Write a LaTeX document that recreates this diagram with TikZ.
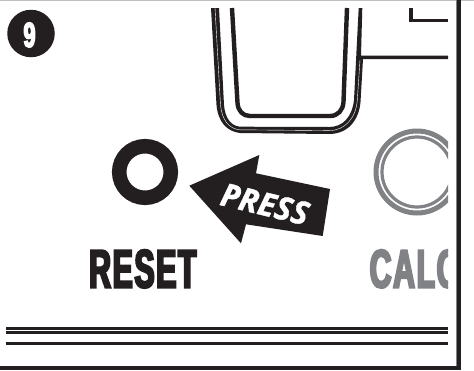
\documentclass[tikz,border=0pt]{standalone}
\usepackage{fontspec}
\newfontfamily\heavyfont[FakeBold=4,FakeStretch=0.56,LetterSpace=3]{Liberation Sans Bold}
\newfontfamily\numfont[FakeBold=4,FakeStretch=0.62]{Liberation Sans Bold}
\newfontfamily\pressfont[FakeBold=1.2]{Open Sans Bold Italic}
\definecolor{ink}{HTML}{231F20}
\definecolor{greyink}{HTML}{808285}
\tikzset{
  inkline/.style={draw=ink,line cap=butt,line join=round},
  seam/.style={draw=white,line width=0.4pt},
  bigword/.style={inner sep=0pt,anchor=base west,font=\heavyfont\fontsize{54}{54}\selectfont},
}
\begin{document}
\begin{tikzpicture}[x=1pt,y=-1pt]
\useasboundingbox (0,0) rectangle (474,370);
\fill[white] (0,0) rectangle (474,370);
% frame
\fill[black!25] (0,0) rectangle (474,1.2);
\fill[ink] (456.5,0) rectangle (461,370);
\fill[greyink] (455.5,0) rectangle (456.5,366);
\fill[ink] (0,366) rectangle (461,370);
% number badge
\node[circle,fill=ink,minimum size=47.5pt,inner sep=0pt] (badge) at (31,33.5) {};
\node[inner sep=0pt,text=white,font=\numfont\fontsize{35}{35}\selectfont] (nine) at (29.5,35) {9};
% panel outline (outer, double)
\fill[ink] (211,8) -- (216.5,105) .. controls (218,122) and (227,131.5) .. (240,133)
  -- (329,134) .. controls (348,134) and (359,120) .. (360.5,102)
  -- (363,59) -- (448,59) -- (448,55.5) -- (361,55.5) -- (362.3,8) -- (358.7,8)
  -- (354,100) .. controls (352,117) and (343,127) .. (329,127)
  -- (240,126.7) .. controls (231,126) and (225,118) .. (224,105) -- (219,8) -- cycle;
\draw[seam] (215,8) -- (220.5,105) .. controls (222,120) and (229,129) .. (240,129.8)
  -- (329,130.6) .. controls (345,130.6) and (356,118) .. (357.3,100) -- (360,60);
% panel inner line
\draw[inkline,line width=4.4pt] (232,8) -- (237.5,103) .. controls (238,111) and (243,116) .. (250,116)
  -- (330,116) .. controls (338,116) and (343,110) .. (343.5,102) -- (347,8);
% top-right corner
\draw[inkline,line width=3.6pt,line join=miter] (411,8) -- (411,20.5) -- (448,20.5);
% reset button
\draw[ink,line width=14.5pt] (145,172) circle (25.8pt);
% grey calc button
\begin{scope}
\clip (360,120) rectangle (448,225);
\draw[greyink,line width=5pt] (417,172) circle (41pt);
\draw[greyink,line width=3.2pt] (417,172) circle (35pt);
\end{scope}
% press arrow
\fill[ink] (189.3,185.7) -- (259.3,155) -- (256,173.3) -- (330,189) -- (322.7,236)
  -- (246,224.3) -- (241,243.3) -- cycle;
\node[inner sep=0pt,text=white,rotate=-13.5,font=\pressfont\fontsize{32}{32}\selectfont] (press) at (265,204) {PRESS};
% labels
\node[bigword,text=ink] (reset) at (89,287.5) {RESET};
\begin{scope}
\clip (360,240) rectangle (448,295);
\node[bigword,text=greyink] (calc) at (369.5,287.5) {CALC};
\end{scope}
% rules
\fill[ink] (6,326.8) rectangle (448,334);
\fill[white] (6,330.4) rectangle (448,330.8);
\fill[ink] (6,342) rectangle (448,345.3);
\end{tikzpicture}
\end{document}
